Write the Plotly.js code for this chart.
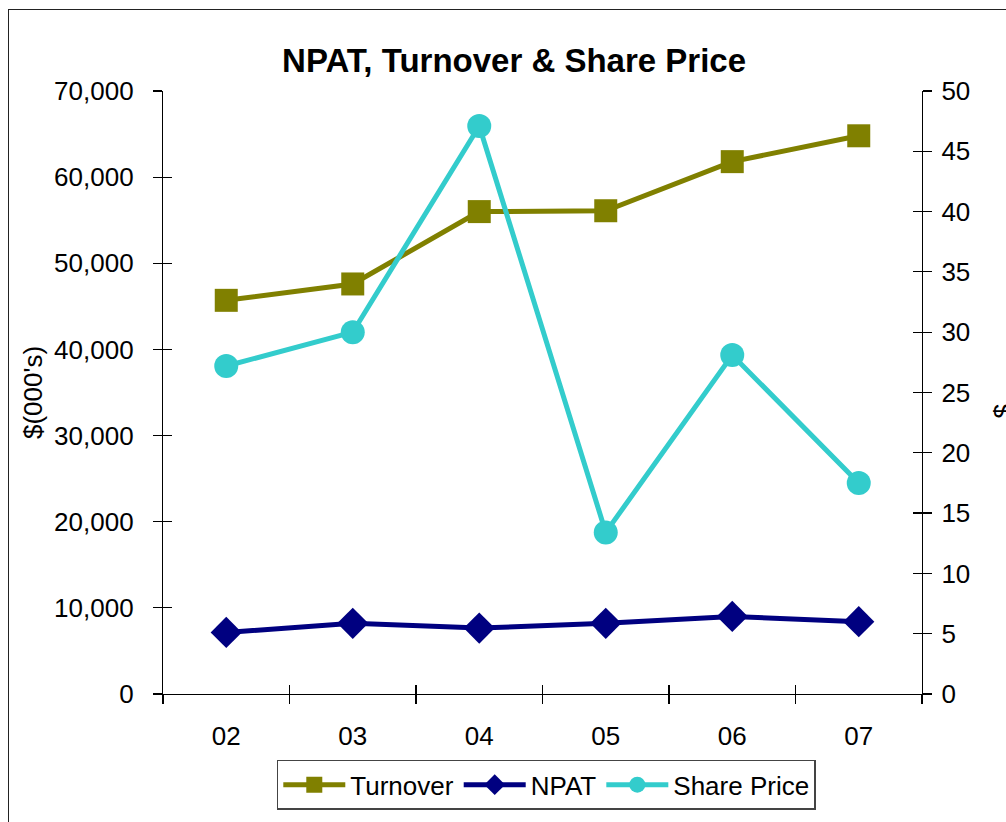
<!DOCTYPE html>
<html>
<head>
<meta charset="utf-8">
<script src="https://cdn.plot.ly/plotly-3.0.1.min.js"></script>
<style>
  html, body { margin: 0; padding: 0; overflow: hidden; background: #fff; }
  #chart { width: 1006px; height: 822px; }
  #frame { position: absolute; left: 8px; top: 9px; width: 1200px; height: 1000px;
           border: 1.5px solid #222; pointer-events: none; }
</style>
</head>
<body>
<div id="chart"></div>
<div id="frame"></div>
<script>
const years = ["02", "03", "04", "05", "06", "07"];
const turnover = [45700, 47600, 56000, 56100, 61800, 64800];
const npat = [7150, 8200, 7650, 8200, 9000, 8400];
const sharePrice = [27.2, 30.0, 47.1, 13.4, 28.1, 17.5];

const FONT = "Liberation Sans, Arial, sans-serif";
const TC = "#000";

const ghost = { type: "scatter", mode: "lines", line: { width: 0 }, opacity: 0,
                hoverinfo: "skip", showlegend: false };

const traces = [
  { x: years, y: turnover, name: "Turnover", type: "scatter", mode: "lines+markers",
    line: { color: "#808000", width: 5 },
    marker: { symbol: "square", size: 23, color: "#808000" } },
  { x: years, y: npat, name: "NPAT", type: "scatter", mode: "lines+markers",
    line: { color: "#000080", width: 5 },
    marker: { symbol: "diamond", size: 24, color: "#000080" } },
  { x: years, y: sharePrice, name: "Share Price", type: "scatter", mode: "lines+markers",
    yaxis: "y2",
    line: { color: "#33CCCC", width: 5 },
    marker: { symbol: "circle", size: 24, color: "#33CCCC" } },
  Object.assign({ x: years, y: turnover, xaxis: "x2", yaxis: "y3" }, ghost),
  Object.assign({ x: years, y: sharePrice, xaxis: "x2", yaxis: "y4" }, ghost)
];

const layout = {
  width: 1006, height: 822,
  margin: { l: 163, r: 84, t: 91, b: 125 },
  paper_bgcolor: "#fff", plot_bgcolor: "#fff",
  font: { family: FONT, size: 26, color: "#000" },
  showlegend: true,
  title: { text: "<b>NPAT, Turnover & Share Price</b>", font: { family: FONT, size: 33, color: "#000" },
           x: 0.511, xref: "container", xanchor: "center", y: 0.927, yref: "container", yanchor: "middle" },
  xaxis: { type: "category", categoryorder: "array", categoryarray: years,
           range: [-0.5, 5.5], tickson: "boundaries", ticks: "outside", ticklen: 9, tickwidth: 1.2,
           tickcolor: "#000", showline: true, linecolor: "#000", linewidth: 1.2,
           showgrid: false, zeroline: false, ticklabelstandoff: 19,
           tickfont: { family: FONT, size: 26 } },
  xaxis2: { type: "category", categoryorder: "array", categoryarray: years, overlaying: "x",
            range: [-0.5, 5.5], tickson: "boundaries", ticks: "inside", ticklen: 9, tickwidth: 1.2,
            tickcolor: TC, showticklabels: false, showline: false, showgrid: false, zeroline: false },
  yaxis: { range: [0, 70000], dtick: 10000, tickformat: ",d", ticks: "outside", ticklen: 9, tickwidth: 1.2,
           tickcolor: "#000", showline: true, linecolor: "#000", linewidth: 1.2,
           showgrid: false, zeroline: false, ticklabelstandoff: 14,
           tickfont: { family: FONT, size: 26 },
           title: { text: "$(000's)", font: { family: FONT, size: 26 }, standoff: 4 } },
  yaxis2: { overlaying: "y", side: "right", range: [0, 50], dtick: 5, ticks: "outside", ticklen: 9, tickwidth: 1.2,
            tickcolor: "#000", showline: true, linecolor: "#000", linewidth: 1.2,
            showgrid: false, zeroline: false, ticklabelstandoff: 4,
            tickfont: { family: FONT, size: 26 } },
  yaxis3: { overlaying: "y", side: "left", anchor: "x2", range: [0, 70000], dtick: 10000, ticks: "inside", ticklen: 9, tickwidth: 1.2,
            tickcolor: TC, showticklabels: false, showline: false, showgrid: false, zeroline: false },
  yaxis4: { overlaying: "y", side: "right", anchor: "x2", range: [0, 50], dtick: 5, ticks: "inside", ticklen: 9, tickwidth: 1.2,
            tickcolor: TC, showticklabels: false, showline: false, showgrid: false, zeroline: false },
  legend: { orientation: "h", x: 0.505, xanchor: "center", y: -0.109, yanchor: "top",
            bordercolor: "#444", borderwidth: 1.5, bgcolor: "#fff",
            font: { family: FONT, size: 26 }, itemwidth: 62, tracegroupgap: 0 },
  annotations: [
    { text: "$", xref: "paper", yref: "paper", x: 1.107, y: 0.469, textangle: -90,
      showarrow: false, font: { family: FONT, size: 26 }, xanchor: "center", yanchor: "middle" }
  ]
};

Plotly.newPlot("chart", traces, layout, { displayModeBar: false, staticPlot: true });
</script>
</body>
</html>
